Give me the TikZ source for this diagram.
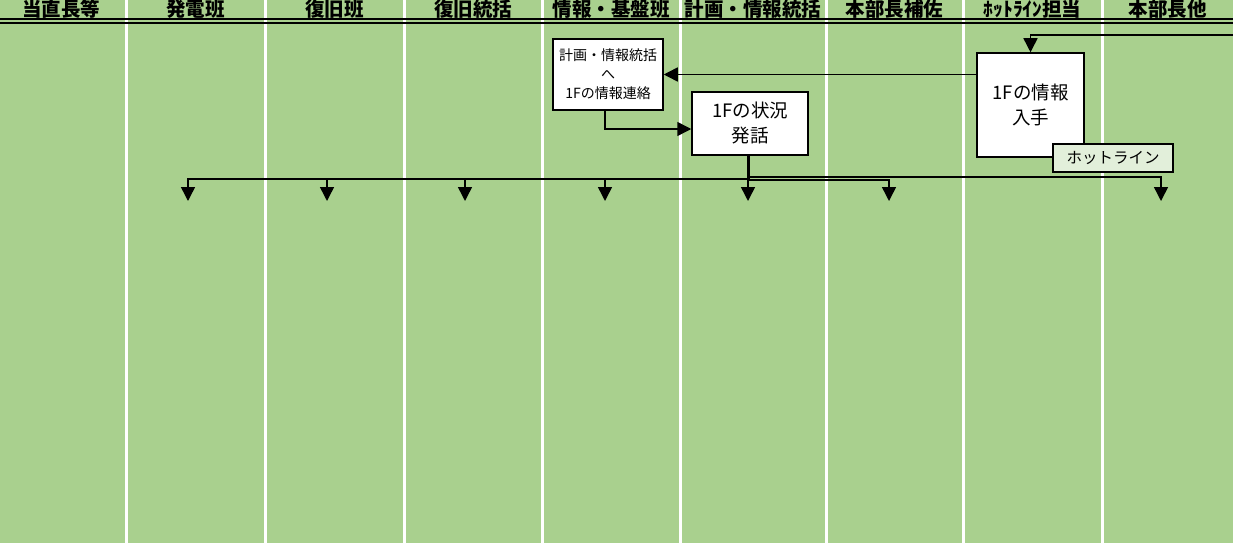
\documentclass[tikz,border=0pt]{standalone}
\usepackage{fontspec}
\setmainfont{Noto Sans CJK JP}
\usetikzlibrary{arrows.meta}
\definecolor{bggreen}{RGB}{169,208,142}
\definecolor{lblgreen}{RGB}{226,239,218}
\begin{document}
\begin{tikzpicture}[x=1pt,y=-1pt,
  arr/.style={draw=black,line width=1.5pt,-{Triangle[width=14pt,length=14pt]}},
  trunk/.style={draw=black,line width=3pt},
  box/.style={draw=black,line width=1.5pt,fill=white,align=center,inner sep=0pt},
  hdr/.style={font=\bfseries\fontsize{19.5}{19.5}\selectfont,anchor=base,inner sep=0pt},
  divider/.style={draw=white,line width=3pt}]
\useasboundingbox (0,0) rectangle (1233,543);
\fill[bggreen] (0,0) rectangle (1233,543);
\foreach \x in {126,265,404,542,680,826,963,1102} \draw[divider] (\x,0) -- (\x,543);
% headers
\node[hdr] (h1) at (61,16.5) {当直長等};
\node[hdr] (h2) at (195.5,16.5) {発電班};
\node[hdr] (h3) at (334.5,16.5) {復旧班};
\node[hdr] (h4) at (473,16.5) {復旧統括};
\node[hdr] (h5) at (611,16.5) {情報・基盤班};
\node[hdr] (h6) at (753,16.5) {計画・情報統括};
\node[hdr] (h7) at (894.5,16.5) {本部長補佐};
\node[hdr] (h8) at (1032.5,16.5) {ﾎｯﾄﾗｲﾝ担当};
\node[hdr] (h9) at (1167.5,16.5) {本部長他};
\draw[line width=2pt] (0,19.2) -- (1233,19.2);
\draw[line width=2.4pt] (0,23.2) -- (1233,23.2);
% boxes
\node[box,minimum width=110pt,minimum height=71pt,font=\fontsize{14}{19}\selectfont] (A) at (608,74.5) {計画・情報統括\\へ\\1Fの情報連絡};
\node[box,minimum width=116pt,minimum height=63pt,font=\fontsize{18.5}{25}\selectfont] (B) at (750,123.5) {1Fの状況\\発話};
\node[box,minimum width=107pt,minimum height=104pt,font=\fontsize{18.5}{25}\selectfont] (C) at (1030.5,105) {1Fの情報\\入手};
\node[box,fill=lblgreen,minimum width=120pt,minimum height=28pt,font=\fontsize{15.5}{18}\selectfont] (L) at (1113,158) {ホットライン};
% connectors
\coordinate (inR) at (1233,35);
\draw[arr] (inR) -| (C.north);
\draw[arr] (C.west |- A.east) -- (A.east);
\draw[arr] ([xshift=-3pt]A.south) |- ([yshift=-5.5pt]B.west);
\coordinate (hub) at (748,179);
\draw[trunk] ([xshift=-2pt]B.south) -- (hub);
\coordinate (t1) at (188,201);
\coordinate (t2) at (327,201);
\coordinate (t3) at (465,201);
\coordinate (t4) at (605,201);
\coordinate (t5) at (748,201);
\coordinate (t6) at (889,201);
\coordinate (t7) at (1161,201);
\foreach \t in {t1,t2,t3,t4} \draw[arr] (hub) -| (\t);
\draw[arr] (hub) -- (t5);
\draw[arr] ([yshift=-1pt]hub) -| (t6);
\draw[arr] ([yshift=2pt]hub) -| (t7);
\end{tikzpicture}
\end{document}
